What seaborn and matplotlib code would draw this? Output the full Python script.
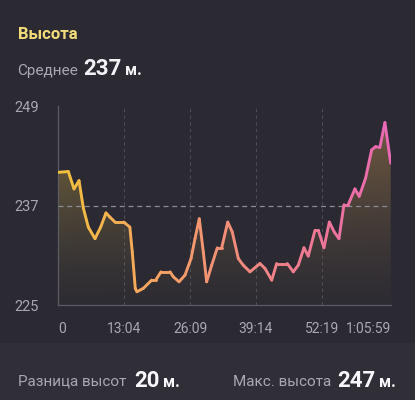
import matplotlib
matplotlib.use('Agg')
import matplotlib.pyplot as plt
import numpy as np
import pandas as pd
import seaborn as sns
from matplotlib.collections import LineCollection
from matplotlib.colors import LinearSegmentedColormap, to_rgb
from matplotlib.patches import Rectangle

# Data (time in seconds, altitude in metres)
time_s = [0, 119, 187, 247, 298, 357, 437, 505, 568, 615, 675, 780, 852, 881, 917, 937,
          1012, 1112, 1160, 1223, 1331, 1370, 1438, 1509, 1581, 1628, 1679, 1727, 1767,
          1827, 1894, 1946, 2018, 2072, 2144, 2203, 2283, 2402, 2462, 2542, 2601, 2727,
          2799, 2858, 2926, 2977, 3057, 3097, 3164, 3228, 3287, 3343, 3402, 3453, 3533,
          3584, 3660, 3732, 3779, 3830, 3890, 3959]
altitude = [241.0, 241.1, 239.0, 240.0, 236.7, 234.4, 233.0, 234.4, 236.1, 235.6, 235.0,
            235.0, 234.4, 231.4, 227.0, 226.6, 227.0, 228.0, 228.0, 229.0, 229.0, 228.4,
            227.8, 228.6, 230.6, 233.0, 235.4, 231.4, 227.8, 229.8, 231.9, 231.9, 235.0,
            233.8, 230.6, 229.8, 229.0, 230.0, 229.4, 228.0, 230.0, 230.0, 229.0, 229.8,
            231.9, 230.9, 234.0, 234.0, 231.9, 235.0, 233.8, 233.0, 237.1, 237.1, 239.0,
            238.1, 240.3, 243.7, 244.1, 244.0, 247.0, 242.1]

tick_pos = [0, 784, 1569, 2354, 3139, 3959]
tick_labels = ['0', '13:04', '26:09', '39:14', '52:19', '1:05:59']
y_ticks = [225, 237, 249]
mean_alt = 237

df = pd.DataFrame({'time': time_s, 'alt': altitude})

bg = '#2b2a33'
band = '#302f38'
grey = '#a9a8b0'

sns.set_style('dark')
plt.rcParams['font.family'] = ['Roboto', 'DejaVu Sans']

fig = plt.figure(figsize=(4.15, 4.0), dpi=100, facecolor=bg)
fig.patches.append(Rectangle((0, 0), 1, 1 - 343 / 400, transform=fig.transFigure,
                             facecolor=band, edgecolor='none', zorder=-5))
ax = fig.add_axes([58.3 / 415, 1 - 305 / 400, 332.4 / 415, 199 / 400])
ax.set_facecolor('none')

# base line via seaborn, then recoloured with a gradient
sns.lineplot(data=df, x='time', y='alt', ax=ax, color='#f0c03a', linewidth=2.1)
line = ax.get_lines()[0]
xs, ys = line.get_xdata(), line.get_ydata()
line.remove()

cmap = LinearSegmentedColormap.from_list(
    'alt', ['#f2c23c', '#f5a85e', '#f28f78', '#ee7a92', '#e968b6'])
pts = np.column_stack([xs, ys]).reshape(-1, 1, 2)
segs = np.concatenate([pts[:-1], pts[1:]], axis=1)
lc = LineCollection(segs, colors=cmap((xs[:-1] + xs[1:]) / 2 / xs[-1]),
                    linewidth=2.1, capstyle='round', joinstyle='round', zorder=4)
ax.add_collection(lc)

# gradient fill under curve
poly = ax.fill_between(xs, ys, 225, color='none')
h, w = 100, 200
img = np.zeros((h, w, 4))
left_c, right_c = np.array(to_rgb('#cdab45')), np.array(to_rgb('#bf9050'))
fx = np.linspace(0, 1, w)
fy = np.linspace(1, 0, h)
for i in range(h):
    img[i, :, :3] = left_c[None, :] * (1 - fx[:, None]) + right_c[None, :] * fx[:, None]
    img[i, :, 3] = 0.02 + 0.5 * fy[i] ** 1.3
im = ax.imshow(img, extent=[0, xs[-1], 225, 249], aspect='auto', origin='upper', zorder=2)
im.set_clip_path(poly.get_paths()[0], transform=ax.transData)

# grid lines
for t in tick_pos[1:]:
    ax.axvline(t, color='#4c4b57', linewidth=0.8, linestyle=(0, (3, 3)), zorder=1)
ax.axhline(mean_alt, color='#8c8b94', linewidth=0.9, linestyle=(0, (4, 3)), zorder=3)

ax.set_xlim(0, xs[-1])
ax.set_ylim(225, 249)
ax.set_xticks(tick_pos)
ax.set_xticklabels(tick_labels)
ax.set_yticks(y_ticks)
ax.tick_params(axis='both', length=0, colors=grey, labelsize=10)
ax.tick_params(axis='y', pad=14, labelsize=10.5)
ax.tick_params(axis='x', pad=12)
xl = ax.get_xticklabels()
xl[0].set_ha('left')
xl[-1].set_ha('right')
ax.set_xlabel('')
ax.set_ylabel('')
ax.grid(False)
for s in ['top', 'right']:
    ax.spines[s].set_visible(False)
for s in ['left', 'bottom']:
    ax.spines[s].set_visible(True)
    ax.spines[s].set_color('#5c5b66')
    ax.spines[s].set_linewidth(0.9)


def px(x, y):
    return x / 415, 1 - y / 400


fig.text(*px(18, 39), 'Высота', color='#f2dc7a', fontsize=12, fontweight='bold', va='baseline')
fig.text(*px(17, 75), 'Среднее', color=grey, fontsize=11, va='baseline')
fig.text(*px(83, 75), '237', color='#f2f2f4', fontsize=16, fontweight='bold', va='baseline')
fig.text(*px(125, 75), 'м.', color='#f2f2f4', fontsize=11.5, fontweight='bold', va='baseline')

fig.text(*px(18, 386), 'Разница высот', color=grey, fontsize=11, va='baseline')
fig.text(*px(134, 387), '20', color='#f8f8fa', fontsize=16, fontweight='bold', va='baseline')
fig.text(*px(163, 387), 'м.', color='#f8f8fa', fontsize=11.5, fontweight='bold', va='baseline')
fig.text(*px(233, 386), 'Макс. высота', color=grey, fontsize=11, va='baseline')
fig.text(*px(337, 387), '247', color='#f8f8fa', fontsize=16, fontweight='bold', va='baseline')
fig.text(*px(379, 387), 'м.', color='#f8f8fa', fontsize=11.5, fontweight='bold', va='baseline')

fig.savefig('out.png', dpi=100, facecolor=bg)
